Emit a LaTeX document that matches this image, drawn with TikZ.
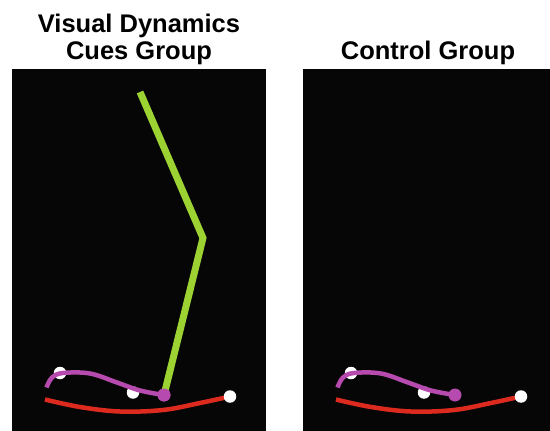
\documentclass[tikz,border=0pt]{standalone}
\usepackage{fontspec}
\setmainfont{Liberation Sans}
\definecolor{panelbg}{HTML}{060606}
\definecolor{limb}{HTML}{9CD232}
\definecolor{trace}{HTML}{B64AAE}
\definecolor{floorline}{HTML}{DC2A1E}
\begin{document}
\begin{tikzpicture}[x=1pt,y=-1pt,
  title/.style={font=\fontsize{25.5}{28}\selectfont\bfseries, align=center, text=black},
  panel/.style={fill=panelbg, draw=none},
  marker/.style={circle, fill=white, inner sep=0pt, minimum size=12.5pt},
  endpoint/.style={circle, fill=trace, inner sep=0pt, minimum size=13pt},
  tracecurve/.style={draw=trace, line width=4.5pt, line cap=butt},
  floorcurve/.style={draw=floorline, line width=4.5pt},
  limbline/.style={draw=limb, line width=7pt, line join=miter},
  pics/scene/.style={code={
    \draw[floorcurve] plot[smooth, tension=0.6] coordinates {(45,399.5) (80,407) (120,411.5) (163,410) (200,403) (230,396.5)};
    \node[marker] (-m1) at (60,373) {};
    \node[marker] (-m2) at (133,392.5) {};
    \node[marker] (-m3) at (230,396.5) {};
    \draw[tracecurve] plot[smooth, tension=0.6] coordinates {(46.5,387.5) (52,377.5) (63,373) (90,373.5) (117,382.5) (140,390.5) (164,395)};
    \node[endpoint] (-tip) at (164,395) {};
  }}]
\useasboundingbox (0,0) rectangle (550,431);
\fill[white] (0,0) rectangle (550,431);

% panels
\path[panel] (12,69) rectangle (266,431);
\path[panel] (303,69) rectangle (550,431);

% titles
\node[title, anchor=base] (t1) at (139,32) {Visual Dynamics};
\node[title, anchor=base] (t2) at (139,59.5) {Cues Group};
\node[title, anchor=base] (t3) at (428,59.5) {Control Group};

% cue panel
\pic (left) at (0,0) {scene};
\coordinate (hipA) at (140,92);
\coordinate (kneeA) at (203,238);
\draw[limbline] (hipA) -- (kneeA) -- (left-tip.center);
\node[endpoint] at (left-tip) {};

% control panel
\pic (right) at (291,0) {scene};
\end{tikzpicture}
\end{document}
